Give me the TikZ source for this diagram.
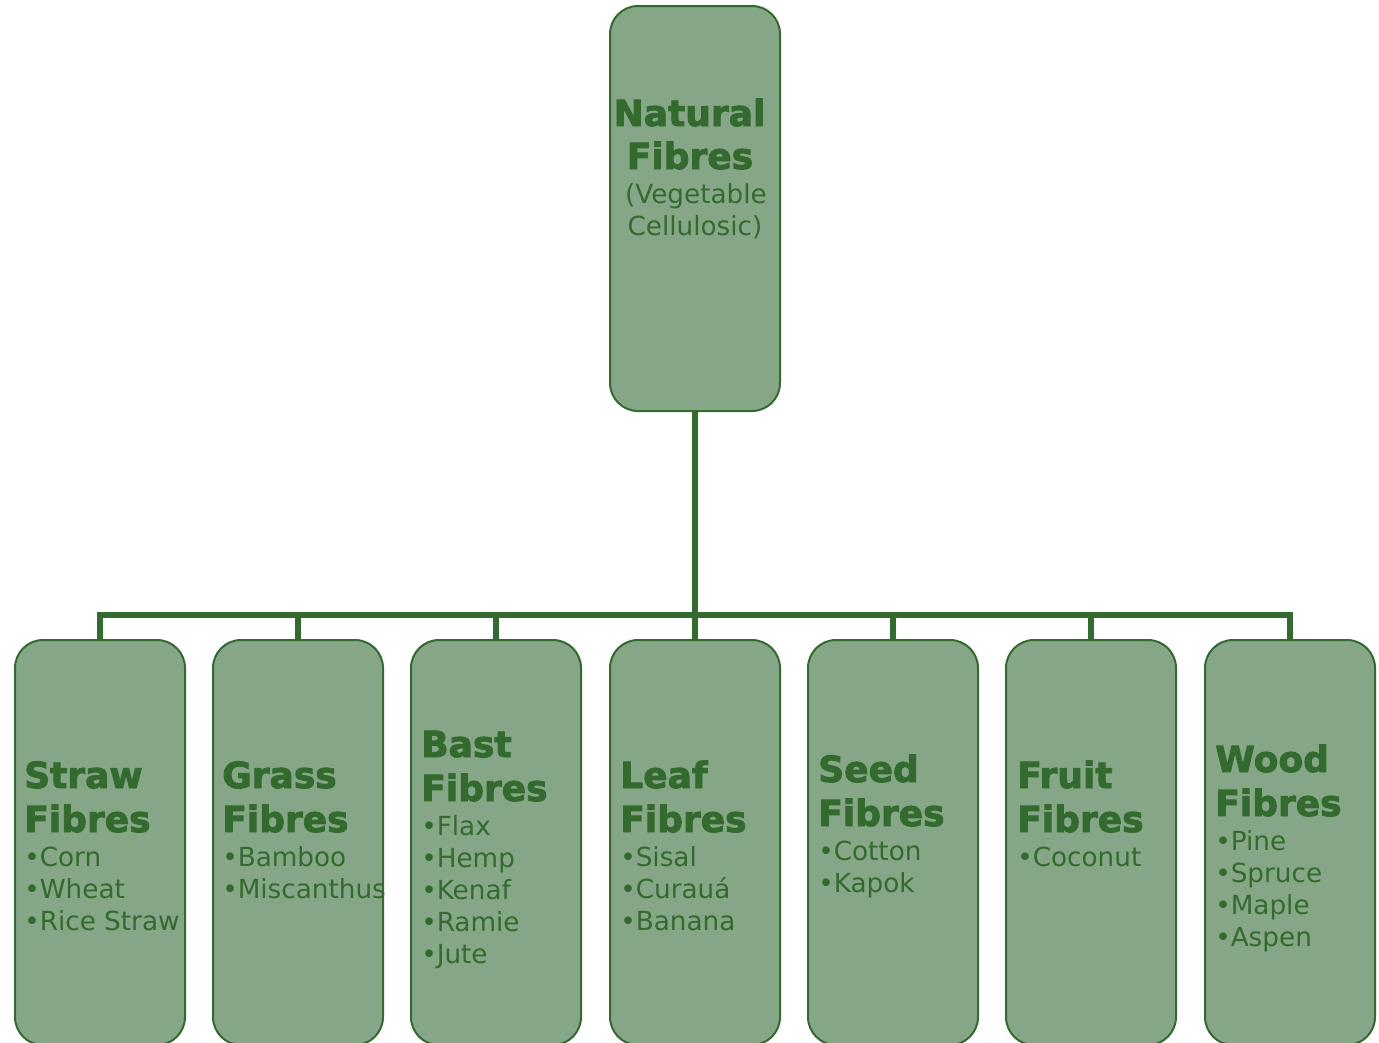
\documentclass[tikz,border=0pt]{standalone}
\usepackage{fontspec}
\setmainfont{DejaVu Sans}[BoldFont={DejaVu Sans Bold},BoldFeatures={FakeBold=2.5}]
\definecolor{boxfill}{RGB}{134,166,136}
\definecolor{fg}{RGB}{51,107,46}
\begin{document}
\begin{tikzpicture}[x=0.75pt,y=-0.75pt,
  box/.style={draw=fg, line width=1.5pt, fill=boxfill, rounded corners=21pt,
    minimum width=127.5pt, minimum height=303.75pt, inner sep=0pt},
  conn/.style={draw=fg, line width=4.5pt, line join=miter},
  ttl/.style={text=fg, inner sep=0pt, font=\fontsize{27}{30}\selectfont\bfseries},
  itm/.style={text=fg, inner sep=0pt, anchor=base west, font=\fontsize{19.7}{24}\selectfont},
  sub/.style={text=fg, inner sep=0pt, anchor=base, font=\fontsize{19.7}{24}\selectfont}]
\useasboundingbox (0,0) rectangle (1379,1043);
% top box
\node[box] (top) at (695,208.5) {};
\node[ttl, anchor=base] (topa) at (689.5,126) {Natural};
\node[ttl, anchor=base] (topb) at (690,169) {Fibres};
\node[sub] (topc) at (696,203) {(Vegetable};
\node[sub] (topd) at (695,235) {Cellulosic)};
% bottom boxes
\foreach \i/\cx in {1/100,2/298,3/496,4/695,5/893,6/1091,7/1290}
  \node[box] (b\i) at (\cx,842.5) {};
% connectors
\coordinate (bus) at (695,615);
\draw[conn] (top.south) -- (top.south |- bus);
\draw[conn] (b1.north) -- (b1.north |- bus) -- (b7.north |- bus) -- (b7.north);
\foreach \i in {2,3,4,5,6}
  \draw[conn] (b\i.north) -- (b\i.north |- bus);
% texts
\foreach \i/\x/\yb/\ta/\items in {
  1/24/788/Straw/{Corn,Wheat,Rice Straw},
  2/222/788/Grass/{Bamboo,Miscanthus},
  3/421/757/Bast/{Flax,Hemp,Kenaf,Ramie,Jute},
  4/620/788/Leaf/{Sisal,Curauá,Banana},
  5/818/782/Seed/{Cotton,Kapok},
  6/1017/788/Fruit/{Coconut},
  7/1215/772/Wood/{Pine,Spruce,Maple,Aspen}}{
  \node[ttl, anchor=base west] (t\i a) at (\x,\yb) {\ta};
  \node[ttl, anchor=base west] (t\i b) at (\x,\yb+44) {Fibres};
  \foreach \it [count=\k] in \items
    \node[itm] (it\i-\k) at (\x,{\yb+46+32*\k}) {•\it};
}
\end{tikzpicture}
\end{document}
